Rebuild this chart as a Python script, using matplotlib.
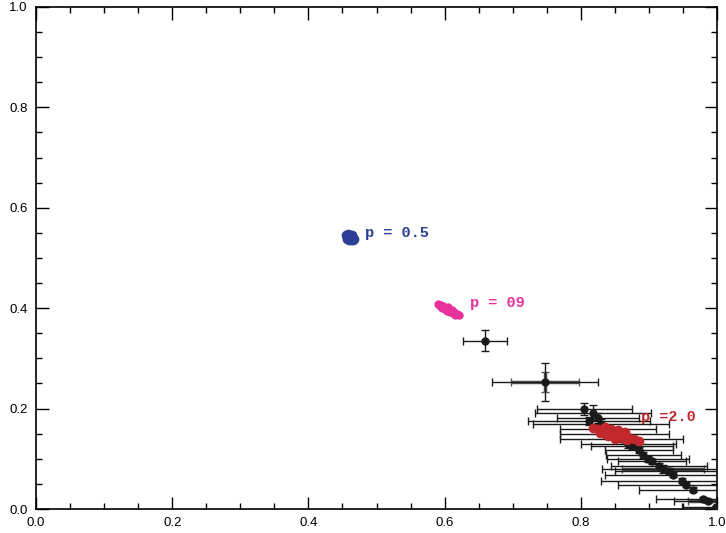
import matplotlib
matplotlib.use('Agg')
import matplotlib.pyplot as plt
from matplotlib.ticker import MultipleLocator

# black points with error bars
bk_x = [0.659, 0.747, 0.805, 0.818, 0.825, 0.812, 0.830, 0.840, 0.850, 0.860,
        0.870, 0.875, 0.885, 0.892, 0.899, 0.905, 0.915, 0.921, 0.930, 0.935,
        0.949, 0.955, 0.965, 0.980, 0.987, 0.998]
bk_y = [0.335, 0.253, 0.199, 0.192, 0.182, 0.175, 0.170, 0.160, 0.150, 0.140,
        0.130, 0.125, 0.117, 0.108, 0.100, 0.095, 0.085, 0.080, 0.075, 0.068,
        0.056, 0.048, 0.038, 0.020, 0.016, 0.004]
bk_xerr = [0.032, 0.078, 0.070, 0.085, 0.060, 0.090, 0.100, 0.070, 0.080, 0.090,
           0.070, 0.060, 0.050, 0.055, 0.060, 0.050, 0.070, 0.090, 0.080, 0.100,
           0.120, 0.100, 0.080, 0.070, 0.050, 0.050]
bk_yerr = [0.021, 0.037, 0.012, 0.015, 0.010, 0.008, 0.010, 0.008, 0.008, 0.006,
           0.008, 0.006, 0.006, 0.006, 0.006, 0.005, 0.006, 0.008, 0.006, 0.005,
           0.005, 0.005, 0.005, 0.004, 0.004, 0.003]

# inner (smaller) error bars on a few points
in_x = [0.747, 0.921, 0.987]
in_y = [0.253, 0.080, 0.016]
in_xerr = [0.050, 0.060, 0.030]
in_yerr = [0.020, 0.004, 0.003]

# colored clusters
blue_x = [0.455, 0.458, 0.461, 0.464, 0.456, 0.459, 0.462, 0.465, 0.467,
          0.457, 0.460, 0.463, 0.466]
blue_y = [0.546, 0.547, 0.546, 0.545, 0.542, 0.542, 0.541, 0.540, 0.538,
          0.537, 0.536, 0.535, 0.535]

pink_x = [0.590, 0.594, 0.598, 0.602, 0.606, 0.610, 0.614, 0.618, 0.621,
          0.596, 0.600, 0.604, 0.608, 0.612, 0.616, 0.593, 0.605, 0.611]
pink_y = [0.409, 0.407, 0.404, 0.401, 0.398, 0.395, 0.392, 0.389, 0.386,
          0.400, 0.398, 0.395, 0.392, 0.390, 0.387, 0.404, 0.403, 0.397]

red_x = [0.818, 0.825, 0.832, 0.840, 0.848, 0.855, 0.862, 0.870, 0.878, 0.885,
         0.828, 0.836, 0.844, 0.852, 0.860, 0.868, 0.835, 0.845, 0.855, 0.865,
         0.850, 0.840]
red_y = [0.162, 0.160, 0.158, 0.156, 0.153, 0.150, 0.147, 0.143, 0.139, 0.135,
         0.152, 0.150, 0.147, 0.144, 0.141, 0.138, 0.163, 0.160, 0.157, 0.153,
         0.140, 0.145]

labels = ['p = 0.5', 'p = 09', 'p =2.0']
label_x = [0.483, 0.637, 0.888]
label_y = [0.550, 0.410, 0.183]
colors = ['#2b3f96', '#e8329b', '#c0282d']

plt.rcParams['font.family'] = ['Liberation Sans', 'DejaVu Sans']
fig = plt.figure(figsize=(7.26, 5.33), dpi=100)
ax = fig.add_axes([0.0496, 0.045, 0.938, 0.942])

ax.errorbar(bk_x, bk_y, xerr=bk_xerr, yerr=bk_yerr, fmt='o', color='#1a1a1a',
            ms=5, elinewidth=1.0, capsize=3, capthick=1.0, zorder=3)
ax.errorbar(in_x, in_y, xerr=in_xerr, yerr=in_yerr, fmt='none', ecolor='#555555',
            elinewidth=2.5, capsize=3, capthick=1.0, zorder=2)

ax.plot(blue_x, blue_y, 'o', color=colors[0], ms=7, mec='none', zorder=4)
ax.plot(pink_x, pink_y, 'o', color=colors[1], ms=6, mec='none', zorder=4)
ax.plot(red_x, red_y, 'o', color=colors[2], ms=7, mec='none', zorder=4)

for t, x, y, c in zip(labels, label_x, label_y, colors):
    ax.text(x, y, t, color=c, fontsize=11, fontweight='bold',
            family='Liberation Mono', va='center', ha='left', zorder=5)

ax.set_xlim(0, 1)
ax.set_ylim(0, 1)
ax.xaxis.set_major_locator(MultipleLocator(0.2))
ax.xaxis.set_minor_locator(MultipleLocator(0.05))
ax.yaxis.set_major_locator(MultipleLocator(0.2))
ax.yaxis.set_minor_locator(MultipleLocator(0.05))
ax.xaxis.set_major_formatter(plt.FormatStrFormatter('%.1f'))
ax.yaxis.set_major_formatter(plt.FormatStrFormatter('%.1f'))
ax.tick_params(which='both', direction='in', top=True, right=True,
               labelsize=9.5, width=1.0, pad=6)
ax.tick_params(which='major', length=9)
ax.tick_params(which='minor', length=4.5)
for s in ax.spines.values():
    s.set_linewidth(1.2)

plt.savefig('out.png', dpi=100)
